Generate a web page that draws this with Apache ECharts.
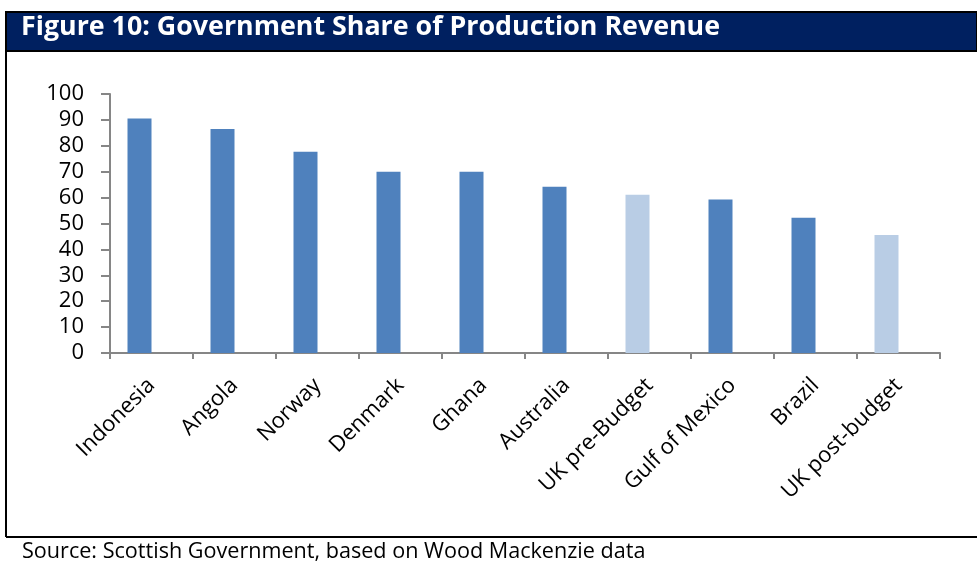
<!DOCTYPE html>
<html>
<head>
<meta charset="utf-8">
<script src="https://cdn.jsdelivr.net/npm/echarts@6/dist/echarts.min.js"></script>
<style>
html,body{margin:0;padding:0;background:#fff;}
#c{width:977px;height:564px;}
</style>
</head>
<body>
<div id="c"></div>
<script>
var categories = ["Indonesia","Angola","Norway","Denmark","Ghana","Australia","UK pre-Budget","Gulf of Mexico","Brazil","UK post-budget"];
var values = [90.5, 86.5, 77.7, 70, 70, 64.2, 61.1, 59.3, 52.2, 45.6];
var highlighted = [false,false,false,false,false,false,true,false,false,true];
var yTicks = [0,10,20,30,40,50,60,70,80,90,100];

var FONT = "Open Sans";
var chart = echarts.init(document.getElementById('c'), null, {renderer:'canvas'});
chart.setOption({
  animation:false,
  backgroundColor:'#ffffff',
  grid:{left:110, right:37, top:94, bottom:211, containLabel:false},
  xAxis:{
    type:'category',
    data:categories,
    axisLine:{lineStyle:{color:'#868686', width:2}},
    axisTick:{show:true, length:6, lineStyle:{color:'#868686', width:2}},
    axisLabel:{rotate:45, color:'#000', fontFamily:FONT, fontSize:22, margin:29, interval:0}
  },
  yAxis:{
    type:'value', min:0, max:100, interval:10,
    axisLine:{show:true, lineStyle:{color:'#868686', width:2}},
    axisTick:{show:true, length:9, lineStyle:{color:'#868686', width:2}},
    splitLine:{show:false},
    axisLabel:{color:'#000', fontFamily:FONT, fontSize:22, margin:26,
      formatter:function(v){ return yTicks.indexOf(v)>=0 ? String(v) : ''; }}
  },
  series:[{
    type:'bar',
    barWidth:24,
    barGap:'0%',
    data:values.map(function(v,i){
      return {value:v, itemStyle:{color: highlighted[i] ? '#B9CDE5' : '#4F81BD'}};
    })
  },{
    type:'bar',
    barWidth:24,
    barGap:'0%',
    data:categories.map(function(){ return null; })
  }],
  graphic:[
    {type:'rect', shape:{x:6, y:12, width:971, height:39}, style:{fill:'#002060', stroke:'#000', lineWidth:2}, z:10},
    {type:'text', left:21, top:14, style:{text:'Figure 10: Government Share of Production Revenue', fill:'#fff', font:'bold 26.8px '+FONT}, z:11},
    {type:'line', shape:{x1:6, y1:12, x2:6, y2:537}, style:{stroke:'#000', lineWidth:2}, z:10},
    {type:'line', shape:{x1:6, y1:537, x2:977, y2:537}, style:{stroke:'#000', lineWidth:2}, z:10},
    {type:'text', left:22, top:541, style:{text:'Source: Scottish Government, based on Wood Mackenzie data', fill:'#000', font:'21.6px '+FONT}, z:11}
  ]
});
</script>
</body>
</html>
